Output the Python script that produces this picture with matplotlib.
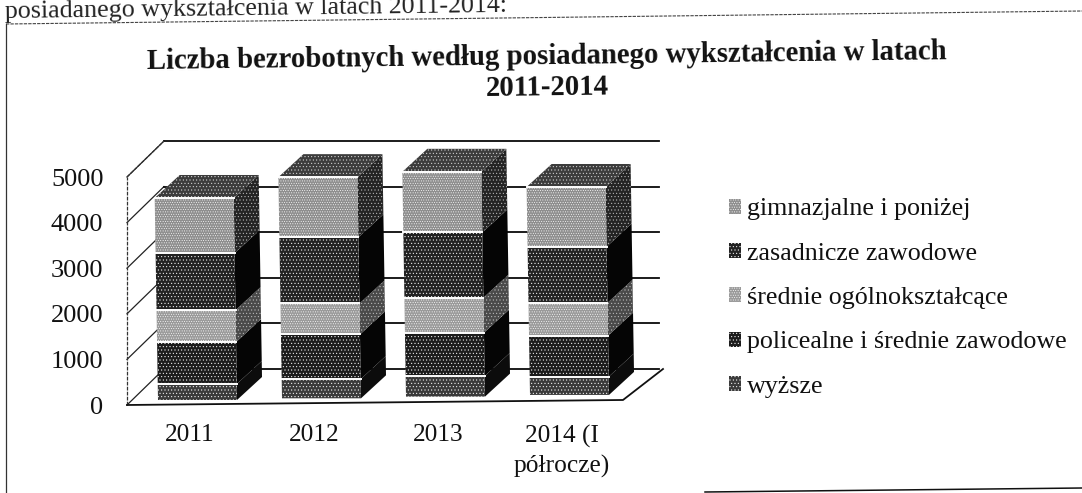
import matplotlib
matplotlib.use('Agg')
from matplotlib import pyplot as plt
from matplotlib.patches import Polygon, Patch
import numpy as np

years = ['2011', '2012', '2013', '2014 (I\npółrocze)']
series_names = ['wyższe', 'policealne i średnie zawodowe', 'średnie ogólnokształcące',
                'zasadnicze zawodowe', 'gimnazjalne i poniżej']
wyzsze = [350, 420, 450, 400]
policealne = [920, 980, 950, 900]
srednie = [700, 680, 770, 720]
zasadnicze = [1250, 1450, 1430, 1230]
gimnazjalne = [1210, 1320, 1330, 1310]
yticks = [0, 1000, 2000, 3000, 4000, 5000]

W, H = 1082, 493
plt.rcParams['font.family'] = ['Liberation Serif', 'DejaVu Serif']
plt.rcParams['hatch.linewidth'] = 0.35

# styles for each series, front and side
front_colors = ['#3a3a3a', '#1c1c1c', '#9a9a9a', '#222222', '#8e8e8e']
side_colors = ['#0c0c0c', '#050505', '#4a4a4a', '#050505', '#242424']
side_hatch = ['', '', '.....', '', '.....']
front_hatch = ['.....', '.....', '.......', '.....', '.......']
top_color = '#3c3c3c'

fig = plt.figure(figsize=(W / 100, H / 100), dpi=100)

# the plot box in pixels, axes hold the real value scale
left_px, right_px, zero_px, top_px = 127, 663, 405, 140
px_per_cat, px_per_val = 124, 228 / 5000
ax = fig.add_axes([left_px / W, 1 - zero_px / H, (right_px - left_px) / W, (zero_px - top_px) / H])
ax.set_xlim((left_px - 190) / px_per_cat, (right_px - 190) / px_per_cat)
ax.set_ylim(0, (zero_px - top_px) / px_per_val)
ax.patch.set_alpha(0)
for s in ax.spines.values():
    s.set_visible(False)

wall_dx, wall_dy = 37 / px_per_cat, 36 / px_per_val
x0, x1 = ax.get_xlim()
dashed = dict(color='#333333', lw=0.9, ls=(0, (3, 1)), clip_on=False, zorder=1)
for v in yticks:
    ax.plot([x0, x0 + wall_dx], [v, v + wall_dy], color='#222222', lw=0.9, zorder=1, clip_on=False)
    ax.plot([x0 + wall_dx, x1 - 4 / px_per_cat], [v + wall_dy, v + wall_dy], color='#0a0a0a', lw=1.3,
            zorder=1, clip_on=False)
ax.plot([x0, x0], [0, yticks[-1]], **dashed)
ax.plot([x0, x0 + wall_dx], [yticks[-1], yticks[-1] + wall_dy], **dashed)
# floor
ax.plot([x0, x1 - 40 / px_per_cat, x1], [-0, 110, wall_dy], color='#111111', lw=1.3, zorder=1, clip_on=False)

bar_w = 79 / px_per_cat
depth_x, depth_y = 25 / px_per_cat, 23 / px_per_val
offs = 7.5 / px_per_cat
base_val = 5 / px_per_val
tilt = 37
lean = -6e-6


def pt(i, v, across=0.0, deep=0.0):
    # project a value on bar i to the oblique drawing plane
    x = i + offs + across * bar_w - bar_w / 2 + lean * v + deep * depth_x
    y = v + base_val + tilt * i + deep * depth_y
    return x, y


stack = np.vstack([wyzsze, policealne, srednie, zasadnicze, gimnazjalne])
tops = np.cumsum(stack, axis=0)
bottoms = tops - stack
for i in range(len(years)):
    for k in range(len(series_names)):
        b, t = bottoms[k, i], tops[k, i]
        ax.add_patch(Polygon([pt(i, b, 1), pt(i, b, 1, 1), pt(i, t, 1, 1), pt(i, t, 1)],
                             fc=side_colors[k], ec='#c4c4c4', lw=0, hatch=side_hatch[k],
                             zorder=3, clip_on=False))
        ax.add_patch(Polygon([pt(i, b), pt(i, b, 1), pt(i, t, 1), pt(i, t)],
                             fc=front_colors[k], ec='white', lw=0, hatch=front_hatch[k],
                             zorder=4, clip_on=False))
    t = tops[-1, i]
    ax.add_patch(Polygon([pt(i, t), pt(i, t, 1), pt(i, t, 1, 1), pt(i, t, 0, 1)],
                         fc=top_color, ec='#dddddd', lw=0, hatch='.....', zorder=3, clip_on=False))
    # white rims round the light bands
    for k in [0, 2, 4]:
        for v in (bottoms[k, i], tops[k, i]):
            if k == 0 and v == 0:
                continue
            ax.plot(*zip(pt(i, v), pt(i, v, 1)), color='white', lw=1.4, zorder=5, clip_on=False)

ax.set_yticks(yticks)
ax.set_xticks(range(len(years)))
ax.set_xticklabels(years, linespacing=1.4)
ax.tick_params(axis='y', length=0, pad=17, labelsize=19, labelcolor='#111111')
ax.tick_params(axis='x', length=0, pad=14, labelsize=18.3, labelcolor='#111111')

# the scan is turned slightly, so the text climbs to the right
skew = 0.7
fig.text(547 / W, 1 - 57 / H, 'Liczba bezrobotnych według posiadanego wykształcenia w latach',
         ha='center', va='center', fontsize=20.7, fontweight='bold', color='#111111',
         rotation=skew, rotation_mode='anchor')
fig.text(547 / W, 1 - 88 / H, '2011-2014', ha='center', va='center', fontsize=20.7,
         fontweight='bold', color='#111111', rotation=skew, rotation_mode='anchor')
fig.text(5 / W, 1 - 12 / H, 'posiadanego wykształcenia w latach 2011-2014:', ha='left', va='center',
         fontsize=18.7, color='#222222', rotation=skew, rotation_mode='anchor')

handles = [Patch(fc=front_colors[k], ec='white', lw=0, hatch=front_hatch[k]) for k in range(5)][::-1]
fig.legend(handles, series_names[::-1], loc='center left', bbox_to_anchor=(729 / W, 1 - 298 / H),
           frameon=False, fontsize=18.7, handlelength=0.46, handleheight=0.5, handletextpad=0.22,
           labelspacing=0.86, borderpad=0, borderaxespad=0, labelcolor='#111111')

# page frame of the scanned sheet
frame = fig.add_axes([0, 0, 1, 1])
frame.set_xlim(0, W)
frame.set_ylim(H, 0)
frame.axis('off')
frame.patch.set_alpha(0)
frame.plot([6, W], [24, 11], color='#444444', lw=0.8, ls=(0, (3, 1)))
frame.plot([6, 6], [24, H], color='#333333', lw=0.9)
frame.plot([705, W], [492, 488], color='#111111', lw=1.1)

fig.savefig('out.png', dpi=100)
